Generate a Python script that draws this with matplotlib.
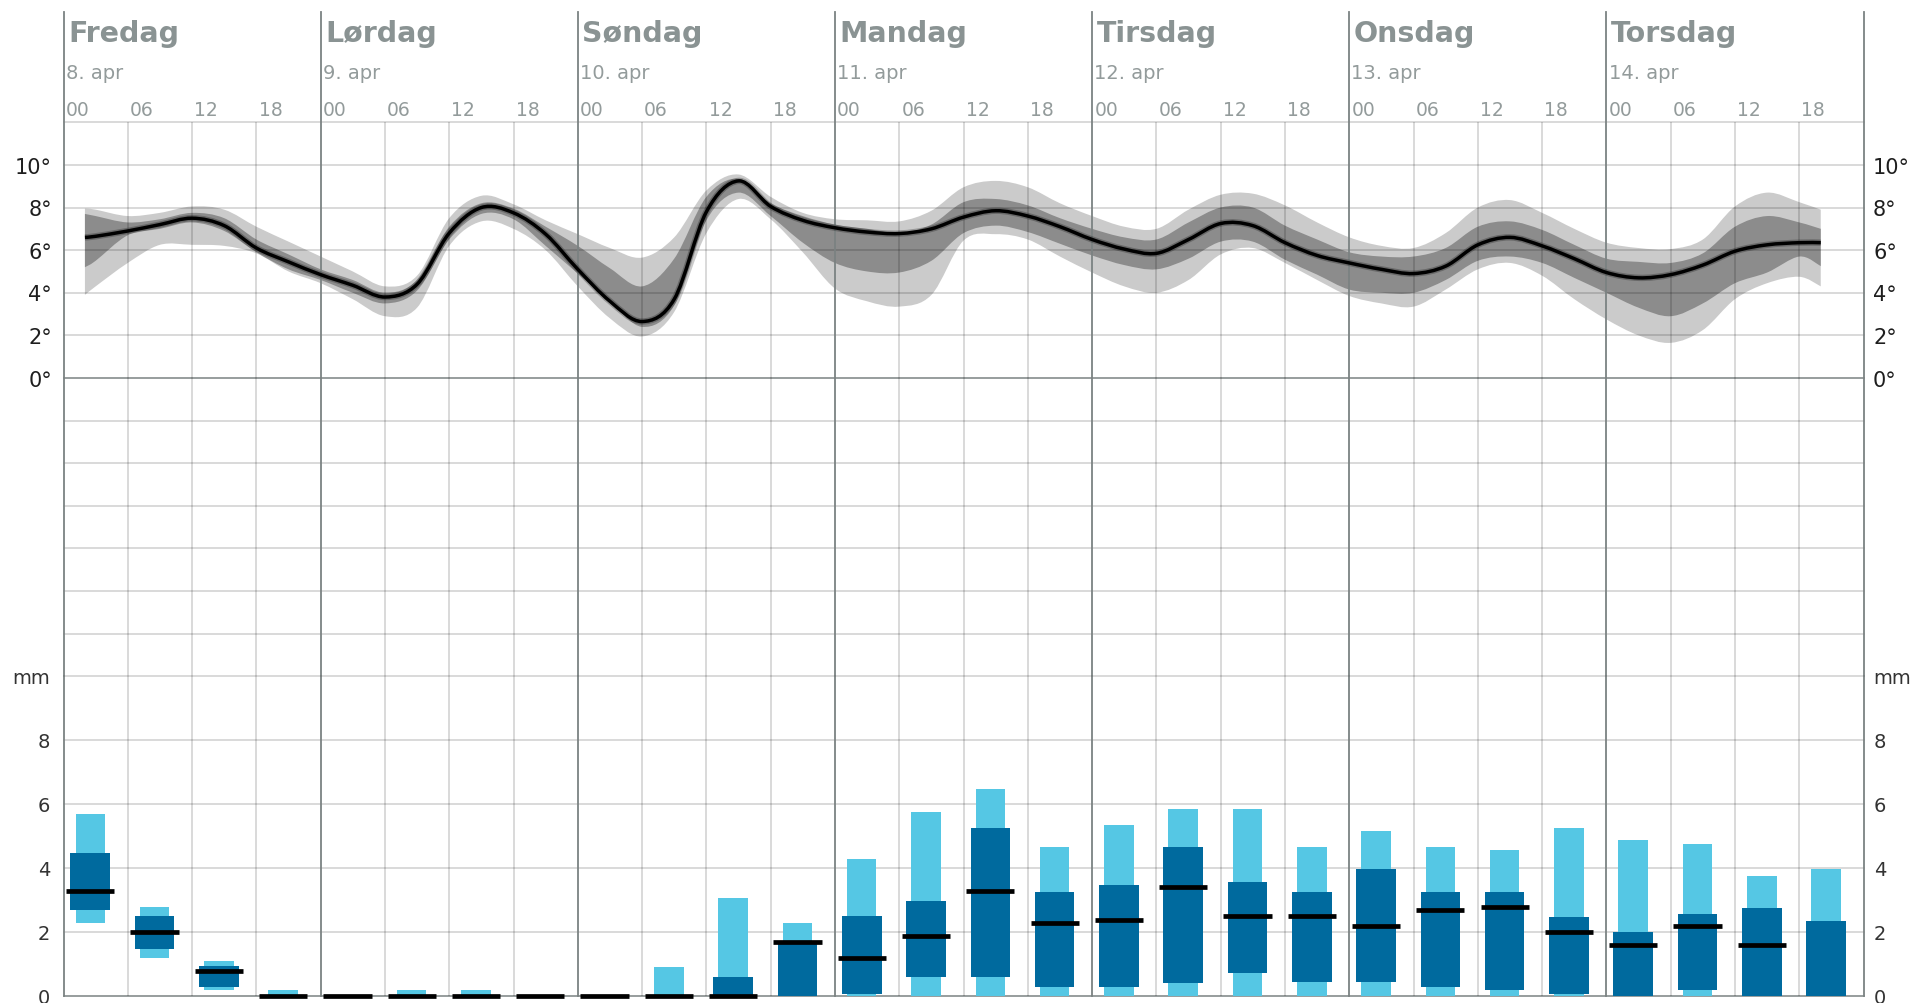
import numpy as np
import matplotlib
matplotlib.use("Agg")
import matplotlib.pyplot as plt
from matplotlib.transforms import blended_transform_factory, offset_copy
from matplotlib.path import Path
from matplotlib.patches import PathPatch

# ---------------- data ----------------
days = ["Fredag", "Lørdag", "Søndag", "Mandag", "Tirsdag", "Onsdag", "Torsdag"]
dates = ["8. apr", "9. apr", "10. apr", "11. apr", "12. apr", "13. apr", "14. apr"]
hour_labels = ["00", "06", "12", "18"]
temp_tick_values = [0, 2, 4, 6, 8, 10]
precip_tick_values = [0, 2, 4, 6, 8]

# hours since Friday 00:00
temp_hours = [2, 3, 6, 9, 12, 15, 18, 21, 24, 27, 30, 33, 36, 39, 42, 45, 48, 51, 54, 57,
              60, 63, 66, 69, 72, 75, 78, 81, 84, 87, 90, 93, 96, 99, 102, 105, 108, 111,
              114, 117, 120, 123, 126, 129, 132, 135, 138, 141, 144, 147, 150, 153, 156,
              159, 162, 164]
temp_median = [6.6, 6.65, 6.9, 7.2, 7.5, 7.15, 6.1, 5.45, 4.85, 4.35, 3.8, 4.4, 6.8, 8.0,
               7.75, 6.75, 5.1, 3.6, 2.65, 3.7, 7.8, 9.25, 8.05, 7.4, 7.05, 6.85, 6.78, 7.0,
               7.55, 7.85, 7.6, 7.1, 6.5, 6.05, 5.85, 6.5, 7.25, 7.15, 6.35, 5.75, 5.4, 5.1,
               4.9, 5.25, 6.25, 6.6, 6.2, 5.6, 4.95, 4.7, 4.85, 5.3, 5.95, 6.25, 6.35, 6.35]
temp_light_hi = [7.95, 7.9, 7.6, 7.75, 8.05, 7.9, 7.1, 6.4, 5.7, 5.0, 4.3, 4.8, 7.5, 8.55,
                 8.15, 7.4, 6.75, 6.1, 5.65, 6.6, 8.8, 9.55, 8.5, 7.75, 7.45, 7.4, 7.35, 7.85,
                 8.95, 9.25, 8.95, 8.2, 7.6, 7.1, 7.0, 7.9, 8.6, 8.65, 8.1, 7.3, 6.6, 6.2,
                 6.1, 6.8, 8.0, 8.35, 7.75, 7.0, 6.35, 6.1, 6.05, 6.5, 8.05, 8.7, 8.25, 7.9]
temp_dark_hi = [7.7, 7.6, 7.3, 7.45, 7.75, 7.5, 6.5, 5.8, 5.1, 4.6, 4.0, 4.6, 7.1, 8.2,
                7.95, 7.1, 6.2, 5.15, 4.3, 5.6, 8.5, 9.35, 8.2, 7.6, 7.2, 7.0, 6.8, 7.2,
                8.25, 8.4, 8.1, 7.5, 7.0, 6.6, 6.5, 7.3, 8.0, 8.0, 7.15, 6.5, 5.9, 5.7,
                5.7, 6.1, 7.1, 7.35, 6.95, 6.25, 5.6, 5.45, 5.4, 5.85, 7.1, 7.6, 7.3, 7.0]
temp_dark_lo = [5.2, 5.5, 6.7, 7.0, 7.3, 6.9, 5.9, 5.1, 4.6, 4.0, 3.5, 4.1, 6.5, 7.7,
                7.45, 6.2, 4.9, 3.6, 2.4, 3.4, 7.4, 8.7, 7.6, 6.35, 5.4, 5.0, 4.95, 5.5,
                6.8, 7.15, 6.85, 6.3, 5.75, 5.3, 5.1, 5.6, 6.4, 6.4, 5.55, 4.85, 4.15, 4.0,
                4.0, 4.6, 5.5, 5.7, 5.4, 4.7, 4.0, 3.3, 2.9, 3.5, 4.45, 4.95, 5.7, 5.25]
temp_light_lo = [3.9, 4.3, 5.4, 6.25, 6.25, 6.2, 5.85, 5.0, 4.45, 3.7, 2.9, 3.3, 6.2, 7.35,
                 7.0, 6.0, 4.3, 2.8, 1.95, 3.1, 6.8, 8.4, 7.45, 5.9, 4.2, 3.6, 3.35, 3.9,
                 6.45, 6.75, 6.5, 5.7, 4.95, 4.3, 4.0, 4.6, 5.8, 6.1, 5.4, 4.6, 3.85, 3.5,
                 3.35, 4.15, 5.1, 5.4, 4.8, 3.7, 2.75, 2.0, 1.65, 2.25, 3.7, 4.45, 4.75, 4.3]

# precipitation per 6-hour period (28 periods, Friday 00-06 onwards), mm
precip_light_lo = [2.27, 1.17, 0.19, 0, 0, 0, 0, 0, 0, 0, 0, 0, 0, 0,
                   0, 0, 0, 0, 0, 0, 0, 0, 0, 0, 0, 0, 0, 0]
precip_light_hi = [5.68, 2.79, 1.09, 0.19, 0, 0.19, 0.19, 0, 0, 0.89, 3.07, 2.27, 4.27, 5.76,
                   6.48, 4.66, 5.36, 5.85, 5.85, 4.66, 5.16, 4.66, 4.56, 5.26, 4.86, 4.76, 3.75, 3.96]
precip_dark_lo = [2.69, 1.46, 0.26, 0, 0, 0, 0, 0, 0, 0, 0, 0, 0.05, 0.57,
                  0.57, 0.28, 0.28, 0.4, 0.71, 0.42, 0.42, 0.28, 0.19, 0.05, 0, 0.19, 0, 0]
precip_dark_hi = [4.48, 2.5, 0.94, 0, 0, 0, 0, 0, 0, 0, 0.57, 1.69, 2.5, 2.97,
                  5.26, 3.26, 3.47, 4.66, 3.56, 3.26, 3.96, 3.26, 3.26, 2.47, 1.98, 2.55, 2.76, 2.34]
precip_median = [3.28, 1.98, 0.78, 0, 0, 0, 0, 0, 0, 0, 0, 1.69, 1.17, 1.88,
                 3.28, 2.27, 2.36, 3.39, 2.5, 2.5, 2.19, 2.68, 2.79, 1.98, 1.58, 2.19, 1.58, np.nan]

# ---------------- style ----------------
W, H = 1916, 1004
GRID_LIGHT = (0, 0, 0, 0.19)
GRID_DARK = "#7b8282"
TXT_GRAY = "#8a9393"
TXT_GRAY2 = "#939b9b"
BAND_LIGHT = "#cbcbcb"
BAND_DARK = "#8c8c8c"
BLUE_LIGHT = "#55c7e4"
BLUE_DARK = "#006a9e"


def smooth_segments(xs, ys):
    """Bezier (CURVE4) segments of a Catmull-Rom curve through the given points."""
    p = np.column_stack([xs, ys]).astype(float)
    ext = np.vstack([p[0], p, p[-1]])
    verts = []
    for i in range(len(p) - 1):
        p0, p1, p2, p3 = ext[i], ext[i + 1], ext[i + 2], ext[i + 3]
        verts += [p1 + (p2 - p0) / 6, p2 - (p3 - p1) / 6, p2]
    return p[0], verts


def curve_path(xs, ys):
    start, segs = smooth_segments(xs, ys)
    verts = [start] + segs
    codes = [Path.MOVETO] + [Path.CURVE4] * len(segs)
    return Path(verts, codes)


def band_path(xs, lo, hi):
    s1, seg1 = smooth_segments(xs, hi)
    s2, seg2 = smooth_segments(xs[::-1], lo[::-1])
    verts = [s1] + seg1 + [s2] + seg2 + [s1]
    codes = ([Path.MOVETO] + [Path.CURVE4] * len(seg1) + [Path.LINETO]
             + [Path.CURVE4] * len(seg2) + [Path.CLOSEPOLY])
    return Path(verts, codes)


fig = plt.figure(figsize=(W / 100, H / 100), dpi=100)
fig.patch.set_facecolor("white")

left_px, right_px = 63.5, 1863.6
t_top, t_bot = 123.3, 677.3
p_top, p_bot = 677.3, 996.7

ax_t = fig.add_axes([left_px / W, 1 - t_bot / H, (right_px - left_px) / W, (t_bot - t_top) / H])
ax_p = fig.add_axes([left_px / W, 1 - p_bot / H, (right_px - left_px) / W, (p_bot - p_top) / H])
for ax in (ax_t, ax_p):
    ax.set_xlim(0, 168)
    ax.axis("off")
ax_t.set_ylim(-14, 12)
ax_p.set_ylim(0, 10)

n_days = len(days)
total_h = 24 * n_days

# horizontal grid
for v in range(-12, 13, 2):
    ax_t.axhline(v, color=GRID_DARK if v == 0 else GRID_LIGHT, lw=1.1, zorder=2, clip_on=False)
for v in range(0, 11, 2):
    ax_p.axhline(v, color=GRID_DARK if v == 0 else GRID_LIGHT, lw=1.1, zorder=1, clip_on=False)

# vertical grid
top_ext = (t_bot - 13) / (t_bot - t_top)
for h in range(0, total_h + 1, 6):
    if h % 24 == 0:
        ax_t.plot([h, h], [0, top_ext], transform=ax_t.get_xaxis_transform(),
                  color=GRID_DARK, lw=1.3, zorder=2.5, clip_on=False)
        ax_p.axvline(h, color=GRID_DARK, lw=1.3, zorder=1.5, clip_on=False)
    else:
        ax_t.axvline(h, color=GRID_LIGHT, lw=1.1, zorder=2)
        ax_p.axvline(h, color=GRID_LIGHT, lw=1.1, zorder=1)

# temperature bands and median
th = np.array(temp_hours, dtype=float)
ax_t.add_patch(PathPatch(band_path(th, np.array(temp_light_lo), np.array(temp_light_hi)),
                         facecolor=BAND_LIGHT, lw=0, zorder=1))
ax_t.add_patch(PathPatch(band_path(th, np.array(temp_dark_lo), np.array(temp_dark_hi)),
                         facecolor=BAND_DARK, lw=0, zorder=1.2))
med_path = curve_path(th, np.array(temp_median))
ax_t.add_patch(PathPatch(med_path, fill=False, edgecolor=(0, 0, 0, 0.25), lw=4.6,
                         capstyle="butt", joinstyle="round", zorder=3))
ax_t.add_patch(PathPatch(med_path, fill=False, edgecolor="black", lw=2.5,
                         capstyle="butt", joinstyle="round", zorder=3.2))

# precipitation bars
xc = np.arange(len(precip_median)) * 6 + 2.5
ll = np.array(precip_light_lo); lu = np.array(precip_light_hi)
dl = np.array(precip_dark_lo); du = np.array(precip_dark_hi)
md = np.array(precip_median)
ax_p.bar(xc, lu - ll, bottom=ll, width=2.75, color=BLUE_LIGHT, lw=0, zorder=3)
ax_p.bar(xc, du - dl, bottom=dl, width=3.7, color=BLUE_DARK, lw=0, zorder=4)
ok = ~np.isnan(md)
ax_p.hlines(md[ok], xc[ok] - 2.25, xc[ok] + 2.25, color="black", lw=3.4, zorder=5, clip_on=False)

# ---------------- texts ----------------
tr_head = blended_transform_factory(ax_t.transData, fig.transFigure)
for i, (d, dt) in enumerate(zip(days, dates)):
    x = 24 * i
    fig.text(x + 0.42, 1 - 42 / H, d, transform=tr_head, ha="left", va="baseline",
             fontsize=20.5, fontweight="bold", color=TXT_GRAY, family="DejaVu Sans")
    fig.text(x + 0.2, 1 - 79 / H, dt, transform=tr_head, ha="left", va="baseline",
             fontsize=14, color=TXT_GRAY2, family="DejaVu Sans")
    for j, hl in enumerate(hour_labels):
        fig.text(x + 6 * j + 0.2, 1 - 116 / H, hl, transform=tr_head, ha="left",
                 va="baseline", fontsize=13.5, color=TXT_GRAY2, family="DejaVu Sans")

# temperature labels
tr_tl = offset_copy(blended_transform_factory(ax_t.transAxes, ax_t.transData), fig=fig,
                    x=-11.5, y=-7.6, units="dots")
tr_tr = offset_copy(blended_transform_factory(ax_t.transAxes, ax_t.transData), fig=fig,
                    x=9.5, y=-7.6, units="dots")
for v in temp_tick_values:
    ax_t.text(0, v, f"{v}°", transform=tr_tl, ha="right", va="baseline", fontsize=15,
              color="#1e1e1e")
    ax_t.text(1, v, f"{v}°", transform=tr_tr, ha="left", va="baseline", fontsize=15,
              color="#1e1e1e")

# precipitation labels
tr_pl = offset_copy(blended_transform_factory(ax_p.transAxes, ax_p.transData), fig=fig,
                    x=-13.5, y=-7.0, units="dots")
tr_pr = offset_copy(blended_transform_factory(ax_p.transAxes, ax_p.transData), fig=fig,
                    x=10, y=-7.0, units="dots")
for v in precip_tick_values:
    ax_p.text(0, v, f"{v}", transform=tr_pl, ha="right", va="baseline", fontsize=14,
              color="#333333")
    ax_p.text(1, v, f"{v}", transform=tr_pr, ha="left", va="baseline", fontsize=14,
              color="#333333")
ax_p.text(0, 10, "mm", transform=tr_pl, ha="right", va="baseline", fontsize=14, color="#333333")
ax_p.text(1, 10, "mm", transform=tr_pr, ha="left", va="baseline", fontsize=14, color="#333333")

fig.savefig("out.png", dpi=100, facecolor="white")
